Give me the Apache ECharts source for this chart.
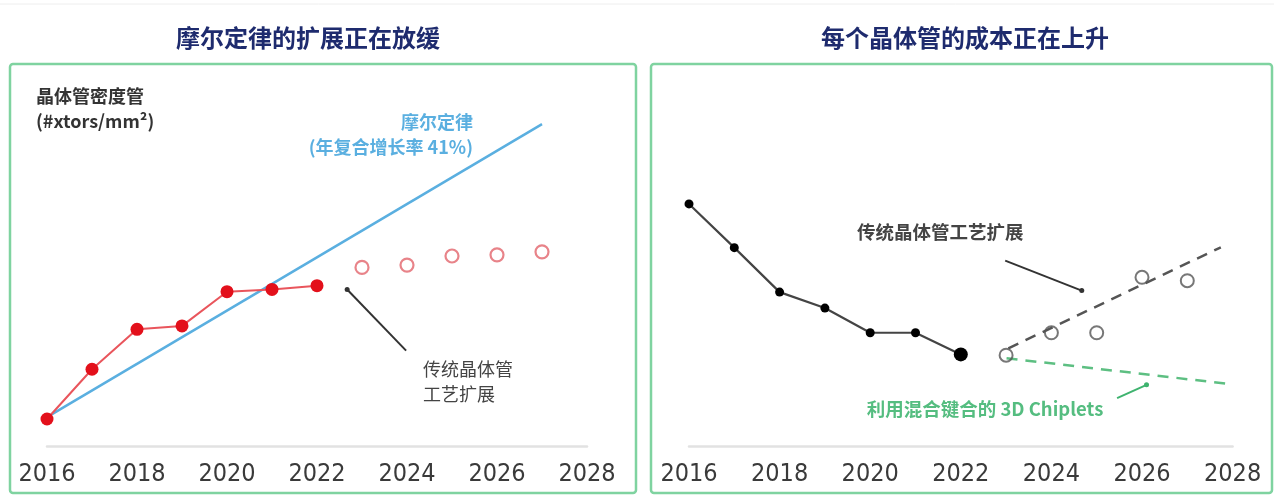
<!DOCTYPE html>
<html>
<head>
<meta charset="utf-8">
<style>
html,body{margin:0;padding:0;background:#fff;}
#c{width:1274px;height:495px;}
</style>
<script src="https://cdn.jsdelivr.net/npm/echarts@6/dist/echarts.min.js"></script>
</head>
<body>
<div id="c"></div>
<script>
// ---- data ----
const yearTicks = [2016, 2018, 2020, 2022, 2024, 2026, 2028];
const actualYears = [2016, 2017, 2018, 2019, 2020, 2021, 2022];
const projYears = [2023, 2024, 2025, 2026, 2027];
const densityActual = [7.1, 20.2, 30.7, 31.6, 40.6, 41.2, 42.2];
const densityProjected = [47.0, 47.6, 50.0, 50.3, 51.1];
const mooreYears = [2016, 2027];
const mooreValues = [7.6, 84.7];
const costActual = [63.7, 52.2, 40.5, 36.3, 29.8, 29.8, 24.1];
const costProjected = [23.9, 29.8, 29.8, 44.4, 43.5];
const costTrendYears = [2023.05, 2027.74];
const costTrendValues = [25.7, 52.3];
const chipletYears = [2023.01, 2027.94];
const chipletValues = [23.1, 16.3];
// annotation pointers (data coordinates)
const leftPointer = [[2022.67, 41.2], [2023.98, 25.1]];
const rightPointer = [[2022.98, 48.8], [2024.67, 40.9]];
const greenPointer = [[2025.45, 12.6], [2026.10, 16.1]];

const zip = (xs, ys) => xs.map((x, i) => [x, ys[i]]);
const CJK = '"Noto Sans CJK SC", "Noto Sans", sans-serif';
const AXF = '"DejaVu Sans Condensed", "DejaVu Sans", sans-serif';

const chart = echarts.init(document.getElementById('c'), null, {renderer: 'canvas'});

const xAxisBase = {
  type: 'value', min: 2016, max: 2028, interval: 2,
  axisLine: {show: true, lineStyle: {color: '#e2e2e2', width: 2.5}},
  axisTick: {show: false},
  splitLine: {show: false},
  axisLabel: {color: '#3a3a3a', fontSize: 25, fontFamily: AXF, margin: 16,
    formatter: v => yearTicks.includes(v) ? String(v) : ''}
};
const yAxisBase = {type: 'value', min: 0, max: 100, show: false};

const dotLine = (pts, color, dotAt, xi) => ({
  type: 'line', xAxisIndex: xi, yAxisIndex: xi, data: pts.map((p, i) => ({
    value: p, symbol: i === dotAt ? 'circle' : 'none', symbolSize: 5
  })),
  showSymbol: true, lineStyle: {color: color, width: 2}, itemStyle: {color: color},
  silent: true, z: 1, animation: false
});

const option = {
  animation: false,
  grid: [
    {left: 47, width: 540, top: 66, height: 380},
    {left: 689, width: 543.6, top: 66, height: 380}
  ],
  xAxis: [Object.assign({gridIndex: 0}, xAxisBase), Object.assign({gridIndex: 1}, xAxisBase)],
  yAxis: [Object.assign({gridIndex: 0}, yAxisBase), Object.assign({gridIndex: 1}, yAxisBase)],
  series: [
    // left panel
    {type: 'line', xAxisIndex: 0, yAxisIndex: 0, data: zip(mooreYears, mooreValues),
      symbol: 'none', lineStyle: {color: '#5aafe0', width: 2.5}, z: 2},
    {type: 'line', xAxisIndex: 0, yAxisIndex: 0, data: zip(actualYears, densityActual),
      symbol: 'circle', symbolSize: 13, lineStyle: {color: '#e9555c', width: 2},
      itemStyle: {color: '#e3101b'}, z: 3},
    {type: 'scatter', xAxisIndex: 0, yAxisIndex: 0, data: zip(projYears, densityProjected),
      symbol: 'circle', symbolSize: 13,
      itemStyle: {color: '#fff', borderColor: '#e2646b', borderWidth: 2.2}, z: 3},
    dotLine(leftPointer, '#333', 0, 0),
    // right panel
    {type: 'line', xAxisIndex: 1, yAxisIndex: 1, data: zip(costTrendYears, costTrendValues),
      symbol: 'none', lineStyle: {color: '#555', width: 2.5, type: [11, 8]}, z: 2},
    {type: 'line', xAxisIndex: 1, yAxisIndex: 1, data: zip(chipletYears, chipletValues),
      symbol: 'none', lineStyle: {color: '#5dbf82', width: 2.5, type: [11, 8]}, z: 2},
    {type: 'line', xAxisIndex: 1, yAxisIndex: 1,
      data: actualYears.map((y, i) => ({value: [y, costActual[i]], symbolSize: i === actualYears.length - 1 ? 14 : 9})),
      symbol: 'circle', lineStyle: {color: '#444', width: 2.2},
      itemStyle: {color: '#000'}, z: 3},
    {type: 'scatter', xAxisIndex: 1, yAxisIndex: 1, data: zip(projYears, costProjected),
      symbol: 'circle', symbolSize: 13,
      itemStyle: {color: 'rgba(255,255,255,0)', borderColor: '#555', borderWidth: 2}, z: 3},
    dotLine(rightPointer, '#333', 1, 1),
    dotLine(greenPointer, '#3fb36f', 1, 1)
  ],
  graphic: [
    {type: 'line', shape: {x1: 0, y1: 4, x2: 1274, y2: 4}, style: {stroke: '#eeeeee', lineWidth: 1}},
    {type: 'rect', shape: {x: 10, y: 64, width: 626, height: 429, r: 3},
      style: {fill: 'none', stroke: '#7fd3a0', lineWidth: 2.5}},
    {type: 'rect', shape: {x: 651, y: 64, width: 621, height: 429, r: 3},
      style: {fill: 'none', stroke: '#7fd3a0', lineWidth: 2.5}},
    {type: 'text', x: 308, y: 38, style: {text: '摩尔定律的扩展正在放缓', fill: '#1e2b6e',
      font: 'bold 24px ' + CJK, textAlign: 'center', textVerticalAlign: 'middle'}},
    {type: 'text', x: 965, y: 38, style: {text: '每个晶体管的成本正在上升', fill: '#1e2b6e',
      font: 'bold 24px ' + CJK, textAlign: 'center', textVerticalAlign: 'middle'}},
    {type: 'text', x: 36, y: 96, style: {text: '晶体管密度管', fill: '#333',
      font: 'bold 18px ' + CJK, textAlign: 'left', textVerticalAlign: 'middle'}},
    {type: 'text', x: 36, y: 121, style: {text: '(#xtors/mm²)', fill: '#333',
      font: 'bold 18px ' + CJK, textAlign: 'left', textVerticalAlign: 'middle'}},
    {type: 'text', x: 473, y: 122, style: {text: '摩尔定律', fill: '#5aafe0',
      font: 'bold 18px ' + CJK, textAlign: 'right', textVerticalAlign: 'middle'}},
    {type: 'text', x: 473, y: 147, style: {text: '(年复合增长率 41%)', fill: '#5aafe0',
      font: 'bold 18px ' + CJK, textAlign: 'right', textVerticalAlign: 'middle'}},
    {type: 'text', x: 423, y: 369, style: {text: '传统晶体管', fill: '#444',
      font: '18px ' + CJK, textAlign: 'left', textVerticalAlign: 'middle'}},
    {type: 'text', x: 423, y: 394, style: {text: '工艺扩展', fill: '#444',
      font: '18px ' + CJK, textAlign: 'left', textVerticalAlign: 'middle'}},
    {type: 'text', x: 857, y: 232, style: {text: '传统晶体管工艺扩展', fill: '#444',
      font: 'bold 18.5px ' + CJK, textAlign: 'left', textVerticalAlign: 'middle'}},
    {type: 'text', x: 985, y: 409, style: {text: '利用混合键合的 3D Chiplets', fill: '#55bd80',
      font: 'bold 18.5px ' + CJK, textAlign: 'center', textVerticalAlign: 'middle'}}
  ]
};
chart.setOption(option);
</script>
</body>
</html>
